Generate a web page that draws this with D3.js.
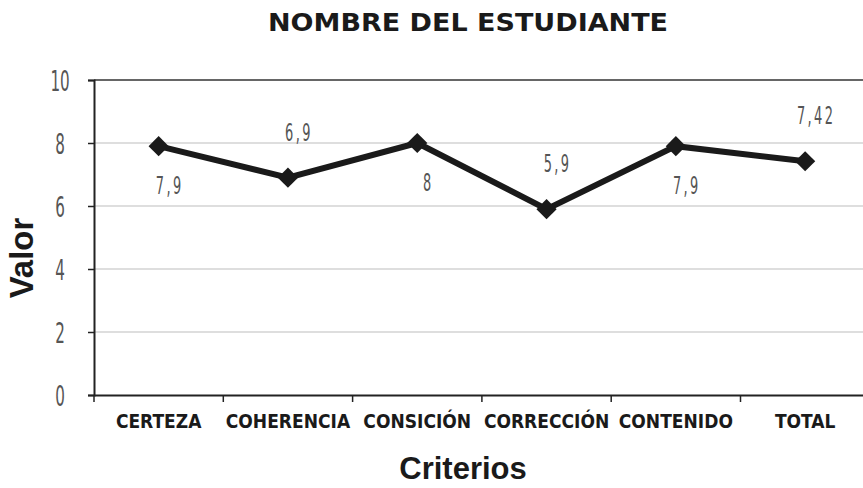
<!DOCTYPE html>
<html>
<head>
<meta charset="utf-8">
<script src="https://cdn.jsdelivr.net/npm/d3@7"></script>
<style>
  body { margin: 0; background: #fff; }
  svg { display: block; }
</style>
</head>
<body>
<div id="chart"></div>
<script>
const categories = ["CERTEZA", "COHERENCIA", "CONSICIÓN", "CORRECCIÓN", "CONTENIDO", "TOTAL"];
const values = [7.9, 6.9, 8, 5.9, 7.9, 7.42];
const valueLabels = ["7,9", "6,9", "8", "5,9", "7,9", "7,42"];
const yTicks = [0, 2, 4, 6, 8, 10];

const width = 863;
const height = 488;
const margin = {top: 80, left: 94, bottom: 93};

const svg = d3.select("#chart")
              .append("svg")
              .attr("width", width)
              .attr("height", height)

const x = d3.scaleBand()
            .domain(categories)
            .range([margin.left, margin.left + 6 * 129.3])

const y = d3.scaleLinear()
            .domain([0, 10])
            .range([height - margin.bottom, margin.top])

const narrow = "'Liberation Sans Narrow', 'DejaVu Sans Condensed', sans-serif"

// gridlines
svg.append("g")
   .selectAll("line")
   .data(yTicks.filter(d => d > 0 && d < 10))
   .enter()
   .append("line")
   .attr("x1", margin.left)
   .attr("x2", width)
   .attr("y1", d => y(d))
   .attr("y2", d => y(d))
   .attr("stroke", "#bdbdbd")
   .attr("stroke-width", 1.2)

// top border
svg.append("line")
   .attr("x1", margin.left)
   .attr("x2", width)
   .attr("y1", y(10))
   .attr("y2", y(10))
   .attr("stroke", "#333")
   .attr("stroke-width", 1.5)

// y axis
const yAxis = svg.append("g")
                 .attr("transform", `translate(${margin.left},0)`)
                 .call(d3.axisLeft(y).tickValues(yTicks).tickSize(6).tickPadding(0))
yAxis.select(".domain").attr("stroke", "#222").attr("stroke-width", 2)
yAxis.selectAll(".tick line").attr("stroke", "#222").attr("stroke-width", 1.5)
yAxis.selectAll(".tick text")
     .attr("x", 0)
     .attr("dy", "0.36em")
     .attr("text-anchor", "middle")
     .attr("transform", "translate(-34,0) scale(0.58,1)")
     .attr("font-family", narrow)
     .attr("font-size", 29)
     .attr("fill", "#555")

// x axis
const xAxis = svg.append("g")
                 .attr("transform", `translate(0,${y(0)})`)
                 .call(d3.axisBottom(x).tickSize(0).tickPadding(0))
xAxis.select(".domain").attr("stroke", "#222").attr("stroke-width", 2)
xAxis.selectAll(".tick text")
     .attr("y", 33)
     .attr("dy", 0)
     .attr("font-family", "'DejaVu Sans Condensed', 'DejaVu Sans', sans-serif")
     .attr("font-stretch", "condensed")
     .attr("font-weight", "bold")
     .attr("font-size", 19)
     .attr("fill", "#1a1a1a")

// x ticks at band edges
svg.append("g")
   .selectAll("line")
   .data(categories)
   .enter()
   .append("line")
   .attr("x1", d => x(d))
   .attr("x2", d => x(d))
   .attr("y1", y(0))
   .attr("y2", y(0) + 7)
   .attr("stroke", "#222")
   .attr("stroke-width", 1.5)

// line
const line = d3.line()
               .x((d, i) => x(categories[i]) + x.bandwidth() / 2)
               .y(d => y(d))

svg.append("path")
   .datum(values)
   .attr("d", line)
   .attr("fill", "none")
   .attr("stroke", "#1a1a1a")
   .attr("stroke-width", 6)
   .attr("stroke-linejoin", "miter")

svg.append("g")
   .selectAll("path")
   .data(values)
   .enter()
   .append("path")
   .attr("d", d3.symbol().type(d3.symbolDiamond2).size(260))
   .attr("transform", (d, i) => `translate(${x(categories[i]) + x.bandwidth() / 2},${y(d)})`)
   .attr("fill", "#1a1a1a")

// value labels, alternating below / above
svg.append("g")
   .selectAll("text")
   .data(values)
   .enter()
   .append("text")
   .attr("transform", (d, i) => `translate(${x(categories[i]) + x.bandwidth() / 2 + 11},${y(d) + (i % 2 === 0 ? 48 : -37)}) scale(0.6,1)`)
   .attr("text-anchor", "middle")
   .attr("font-family", narrow)
   .attr("font-size", 24)
   .attr("letter-spacing", 4)
   .attr("fill", "#555")
   .text((d, i) => valueLabels[i])

// title
svg.append("text")
   .attr("x", 468)
   .attr("y", 31)
   .attr("text-anchor", "middle")
   .attr("font-family", "'DejaVu Sans', sans-serif")
   .attr("font-weight", "bold")
   .attr("font-size", 25)
   .attr("textLength", 400)
   .attr("lengthAdjust", "spacingAndGlyphs")
   .attr("fill", "#1a1a1a")
   .text("NOMBRE DEL ESTUDIANTE")

// axis titles
svg.append("text")
   .attr("x", 463)
   .attr("y", 479)
   .attr("text-anchor", "middle")
   .attr("font-family", "'Liberation Sans', Arial, sans-serif")
   .attr("font-weight", "bold")
   .attr("font-size", 31)
   .attr("fill", "#1a1a1a")
   .text("Criterios")

svg.append("text")
   .attr("transform", "translate(33,258) rotate(-90)")
   .attr("text-anchor", "middle")
   .attr("font-family", "'Liberation Sans', Arial, sans-serif")
   .attr("font-weight", "bold")
   .attr("font-size", 33)
   .attr("fill", "#1a1a1a")
   .text("Valor")
</script>
</body>
</html>
